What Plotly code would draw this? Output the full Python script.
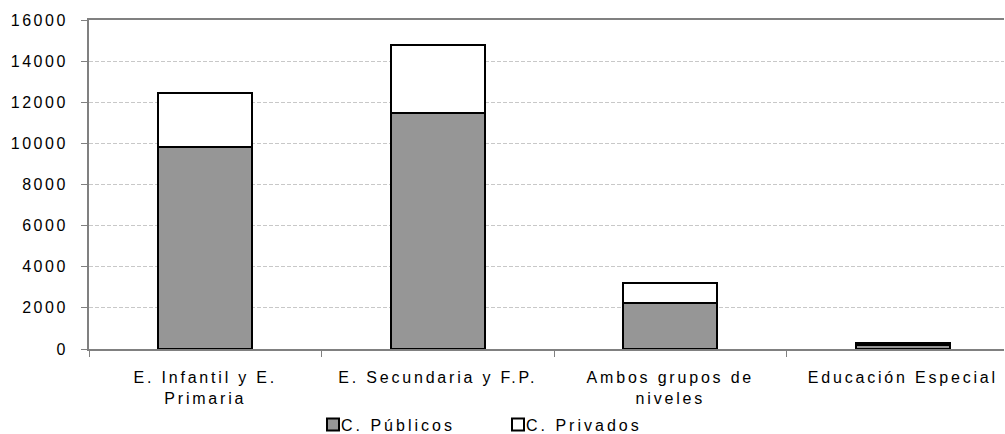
import plotly.graph_objects as go

categories = ["E. Infantil y E.<br>Primaria", "E. Secundaria y F.P.", "Ambos grupos de<br>niveles", "Educación Especial"]
publicos = [9820, 11490, 2245, 190]
privados = [2640, 3310, 985, 100]
y_ticks = [0, 2000, 4000, 6000, 8000, 10000, 12000, 14000, 16000]

FONT = "Liberation Sans, Arial, sans-serif"

fig = go.Figure()
fig.add_trace(go.Bar(
    x=categories, y=publicos, name="C. Públicos",
    marker=dict(color="#969696", line=dict(color="black", width=2)),
))
fig.add_trace(go.Bar(
    x=categories, y=privados, name="C. Privados",
    marker=dict(color="white", line=dict(color="black", width=2)),
))

fig.update_layout(
    barmode="stack",
    bargap=0.595,
    width=1005, height=434,
    margin=dict(l=89, r=1, t=20, b=85, autoexpand=False),
    plot_bgcolor="white", paper_bgcolor="white",
    font=dict(family=FONT, size=16, color="black"),
    showlegend=True,
    legend=dict(orientation="h", x=0.2448, xanchor="left", y=-0.178, yanchor="top",
                font=dict(family=FONT, size=16, color="black"),
                entrywidth=140, entrywidthmode="pixels",
                itemwidth=30, tracegroupgap=0, traceorder="normal"),
)
fig.update_xaxes(
    type="category", range=[-0.5, 3.435], automargin=False,
    showline=True, linecolor="#808080", linewidth=2, mirror=True,
    ticks="outside", tickson="boundaries", ticklen=6, tickcolor="#808080", tickwidth=1,
    ticklabelstandoff=13,
    showgrid=False,
    tickfont=dict(family=FONT, size=16, color="black"),
)
fig.update_yaxes(
    range=[0, 16000], tickvals=y_ticks, ticktext=[str(v) for v in y_ticks],
    automargin=False,
    showline=True, linecolor="#808080", linewidth=2,
    ticks="outside", ticklen=6, tickcolor="#808080", tickwidth=1,
    ticklabelstandoff=10,
    showgrid=True, gridcolor="#c8c8c8", gridwidth=1, griddash="4px,2px",
    zeroline=False,
    tickfont=dict(family=FONT, size=16, color="black"),
)

post = """
document.body.style.margin = '0';
document.body.style.padding = '0';
function spaceText(){
  var gd = document.querySelector('.plotly-graph-div');
  gd.querySelectorAll('.xtick text').forEach(function(t){ t.style.letterSpacing = '2.8px'; });
  gd.querySelectorAll('.ytick text').forEach(function(t){ t.style.letterSpacing = '2.5px'; });
  gd.querySelectorAll('.legendtext').forEach(function(t){
    t.style.letterSpacing = '3px';
    t.setAttribute('x', '28');
  });
  gd.querySelectorAll('.legendpoints path').forEach(function(p){
    p.style.strokeWidth = '2px';
  });
}
spaceText();
setTimeout(spaceText, 50);
"""

fig.write_html("out.html", post_script=post, config={"displayModeBar": False})
